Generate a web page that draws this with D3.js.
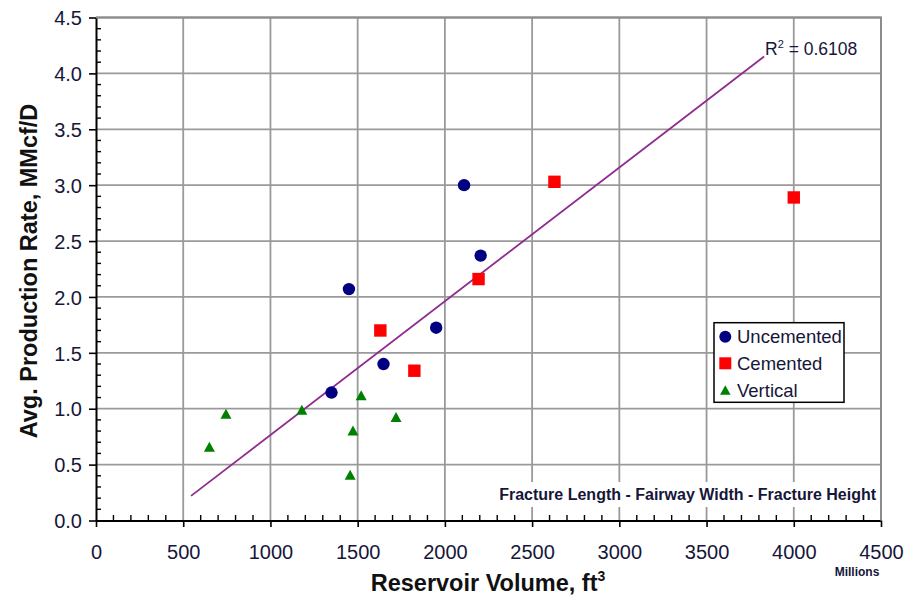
<!DOCTYPE html>
<html>
<head>
<meta charset="utf-8">
<script src="https://cdn.jsdelivr.net/npm/d3@7"></script>
<style>
  html, body { margin: 0; padding: 0; background: #fff; }
  svg { display: block; }
  text { font-family: "Liberation Sans", Arial, sans-serif; }
</style>
</head>
<body>
<svg id="chart" width="912" height="599"></svg>
<script>
// Reservoir volume (millions ft^3) vs. average production rate (MMcf/D)
const uncementedX = [2110, 2205, 1450, 1950, 1648, 1350];
const uncementedY = [3.00, 2.37, 2.07, 1.725, 1.40, 1.145];

const cementedX = [2628, 4000, 2193, 1630, 1825];
const cementedY = [3.03, 2.89, 2.16, 1.70, 1.34];

const verticalX = [745, 650, 1180, 1520, 1720, 1473, 1457];
const verticalY = [0.955, 0.66, 0.99, 1.12, 0.925, 0.805, 0.41];

// Linear trendline fitted over all wells
const trendSlope = 0.0011968;
const trendIntercept = -0.432;
const trendRange = [545, 3830];
const rSquared = "0.6108";

const xTicks = [0, 500, 1000, 1500, 2000, 2500, 3000, 3500, 4000, 4500];
const yTicks = [0.0, 0.5, 1.0, 1.5, 2.0, 2.5, 3.0, 3.5, 4.0, 4.5];

const seriesNames = ["Uncemented", "Cemented", "Vertical"];
const seriesColors = ["#000080", "#ff0000", "#008000"];

const svg = d3.select("#chart");
const plotL = 96, plotR = 881, plotT = 17.5, plotB = 520.5;
const textColor = "#16163a";

const x = d3.scaleLinear().domain([0, 4500]).range([plotL, plotR]);
const y = d3.scaleLinear().domain([0, 4.5]).range([plotB, plotT]);

// gridlines
const grid = svg.append("g").attr("stroke", "#9a9a9a").attr("stroke-width", 1.8);
grid.selectAll("line.v").data(xTicks.slice(1)).join("line").attr("class", "v")
  .attr("x1", d => x(d)).attr("x2", d => x(d))
  .attr("y1", plotT).attr("y2", plotB);
grid.selectAll("line.h").data(yTicks.slice(1)).join("line").attr("class", "h")
  .attr("x1", plotL).attr("x2", plotR)
  .attr("y1", d => y(d)).attr("y2", d => y(d));

// white panel behind the caption
svg.append("rect").attr("x", 490).attr("y", 482).attr("width", plotR - 490 - 1).attr("height", 25)
  .attr("fill", "#fff");
svg.append("text").attr("x", 876).attr("y", 499.5).attr("text-anchor", "end")
  .attr("font-size", 16).attr("font-weight", "bold").attr("fill", textColor)
  .text("Fracture Length - Fairway Width - Fracture Height");

// x axis: major ticks outward, minor ticks inward
const xAxis = d3.axisBottom(x).tickValues(xTicks).tickSize(6.5).tickSizeOuter(0).tickFormat(d3.format("d"));
const gx = svg.append("g").attr("transform", `translate(0,${plotB})`).call(xAxis);
gx.select(".domain").attr("stroke", "#000").attr("stroke-width", 2);
gx.selectAll(".tick line").attr("stroke", "#000").attr("stroke-width", 1.6);
gx.selectAll(".tick text").attr("font-size", 20).attr("fill", textColor)
  .attr("font-family", "Liberation Sans, Arial, sans-serif").attr("dy", null).attr("y", 38.5);
const xMinor = d3.range(100, 4500, 100).filter(v => v % 500 !== 0);
svg.append("g").selectAll("line").data(xMinor).join("line")
  .attr("x1", d => x(d)).attr("x2", d => x(d))
  .attr("y1", plotB).attr("y2", plotB - 5.5)
  .attr("stroke", "#000").attr("stroke-width", 1.4);

// y axis
const yAxis = d3.axisLeft(y).tickValues(yTicks).tickSize(7).tickSizeOuter(0).tickFormat(d3.format(".1f"));
const gy = svg.append("g").attr("transform", `translate(${plotL},0)`).call(yAxis);
gy.select(".domain").attr("stroke", "#000").attr("stroke-width", 2);
gy.selectAll(".tick line").attr("stroke", "#000").attr("stroke-width", 1.6);
gy.selectAll(".tick text").attr("font-size", 20).attr("fill", textColor)
  .attr("font-family", "Liberation Sans, Arial, sans-serif").attr("x", -14).attr("dy", "0.36em");
const yMinor = d3.range(1, 45).map(i => i / 10).filter(v => Math.round(v * 10) % 5 !== 0);
svg.append("g").selectAll("line").data(yMinor).join("line")
  .attr("x1", plotL).attr("x2", plotL + 5)
  .attr("y1", d => y(d)).attr("y2", d => y(d))
  .attr("stroke", "#000").attr("stroke-width", 1.4);

// top and right frame
svg.append("path").attr("d", `M${plotL},${plotT}H${plotR}V${plotB}`)
  .attr("fill", "none").attr("stroke", "#8c8c8c").attr("stroke-width", 2);

// trendline
svg.append("line")
  .attr("x1", x(trendRange[0])).attr("y1", y(trendSlope * trendRange[0] + trendIntercept))
  .attr("x2", x(trendRange[1])).attr("y2", y(trendSlope * trendRange[1] + trendIntercept))
  .attr("stroke", "#8e2b8e").attr("stroke-width", 1.8);

const r2 = svg.append("text").attr("x", 765).attr("y", 55).attr("font-size", 17.5).attr("fill", textColor);
r2.append("tspan").text("R");
r2.append("tspan").attr("font-size", 11).attr("dy", -7).text("2");
r2.append("tspan").attr("dy", 7).text(" = " + rSquared);

// markers
const triPath = (cx, cy, w, h) => `M${cx},${cy - h / 2}L${cx + w / 2},${cy + h / 2}L${cx - w / 2},${cy + h / 2}Z`;

svg.append("g").selectAll("circle").data(d3.zip(uncementedX, uncementedY)).join("circle")
  .attr("cx", d => x(d[0])).attr("cy", d => y(d[1])).attr("r", 6.2)
  .attr("fill", seriesColors[0]);
svg.append("g").selectAll("rect").data(d3.zip(cementedX, cementedY)).join("rect")
  .attr("x", d => x(d[0]) - 6.2).attr("y", d => y(d[1]) - 6.2)
  .attr("width", 12.4).attr("height", 12.4).attr("fill", seriesColors[1]);
svg.append("g").selectAll("path").data(d3.zip(verticalX, verticalY)).join("path")
  .attr("d", d => triPath(x(d[0]), y(d[1]), 11, 10)).attr("fill", seriesColors[2]);

// legend
const lg = svg.append("g");
lg.append("rect").attr("x", 714).attr("y", 322.7).attr("width", 130).attr("height", 79.6)
  .attr("fill", "#fff").attr("stroke", "#000").attr("stroke-width", 1.5);
const rowY = [336.7, 363.3, 390];
lg.append("circle").attr("cx", 725.3).attr("cy", rowY[0]).attr("r", 6).attr("fill", seriesColors[0]);
lg.append("rect").attr("x", 719.3).attr("y", rowY[1] - 6).attr("width", 12).attr("height", 12).attr("fill", seriesColors[1]);
lg.append("path").attr("d", triPath(725.3, rowY[2], 10.5, 9.5)).attr("fill", seriesColors[2]);
lg.selectAll("text").data(seriesNames).join("text")
  .attr("x", 737).attr("y", (d, i) => rowY[i] + 6.6)
  .attr("font-size", 18.5).attr("fill", textColor).text(d => d);

// axis titles
const xt = svg.append("text").attr("x", 488).attr("y", 591).attr("text-anchor", "middle")
  .attr("font-size", 23.5).attr("font-weight", "bold").attr("fill", "#111");
xt.append("tspan").text("Reservoir Volume, ft");
xt.append("tspan").attr("font-size", 14).attr("dy", -10).text("3");

svg.append("text").attr("transform", "translate(37,271) rotate(-90)").attr("text-anchor", "middle")
  .attr("font-size", 23.5).attr("font-weight", "bold").attr("fill", "#111")
  .text("Avg. Production Rate, MMcf/D");

svg.append("text").attr("x", 857).attr("y", 576).attr("text-anchor", "middle")
  .attr("font-size", 12).attr("font-weight", "bold").attr("fill", textColor)
  .text("Millions");
</script>
</body>
</html>
